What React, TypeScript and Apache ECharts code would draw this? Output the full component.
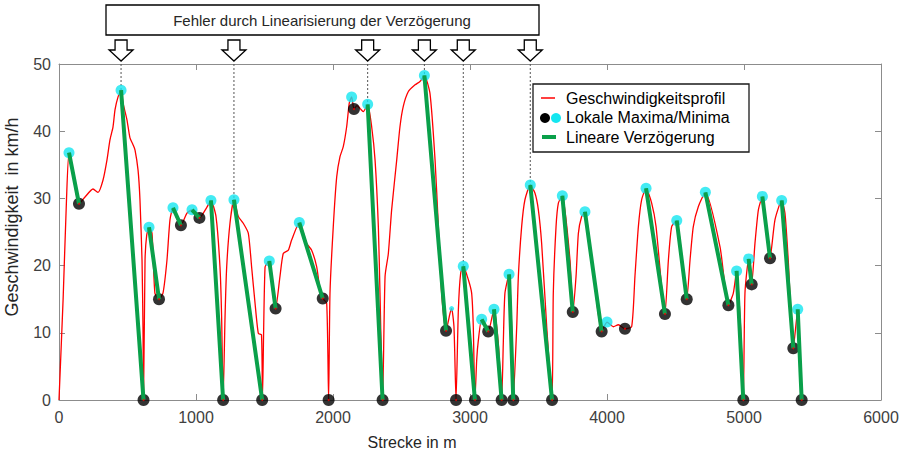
import React, { useEffect, useRef } from "react";
import * as echarts from "echarts";

// Red speed profile: distance (m) and speed (km/h)
const profileX = [0, 30, 55, 73, 110, 146, 190, 248, 285, 321, 350, 372, 394, 409, 431, 453, 467, 496, 518, 540, 555, 577, 591, 606, 613, 617, 628, 640, 657, 679, 700, 730, 759, 788, 810, 832, 860, 890, 934, 971, 1000, 1025, 1080, 1109, 1146, 1175, 1187, 1198, 1212, 1224, 1248, 1277, 1309, 1345, 1382, 1406, 1431, 1455, 1478, 1485, 1504, 1535, 1560, 1581, 1613, 1637, 1674, 1698, 1754, 1808, 1844, 1881, 1905, 1925, 1954, 1968, 1978, 2002, 2027, 2051, 2075, 2100, 2119, 2136, 2153, 2175, 2197, 2221, 2253, 2282, 2307, 2331, 2343, 2362, 2380, 2404, 2428, 2465, 2489, 2513, 2550, 2599, 2635, 2667, 2708, 2745, 2769, 2793, 2825, 2854, 2866, 2883, 2898, 2915, 2932, 2951, 2988, 3012, 3024, 3036, 3049, 3061, 3085, 3133, 3175, 3207, 3231, 3243, 3255, 3285, 3304, 3316, 3341, 3353, 3377, 3401, 3440, 3474, 3499, 3523, 3560, 3599, 3608, 3628, 3645, 3674, 3730, 3750, 3774, 3791, 3815, 3839, 3900, 3961, 4000, 4046, 4083, 4131, 4180, 4204, 4229, 4253, 4285, 4326, 4358, 4423, 4448, 4472, 4509, 4582, 4606, 4630, 4667, 4718, 4825, 4886, 4922, 4946, 4975, 4995, 5007, 5034, 5056, 5080, 5105, 5134, 5190, 5226, 5275, 5299, 5323, 5360, 5392, 5421];
const profileV = [0, 15, 30, 36.8, 32.5, 29.2, 30.2, 31.4, 30.9, 32.7, 35.7, 38.7, 40.6, 43.2, 45.1, 46.1, 44.2, 41.7, 39.0, 38.0, 37.2, 34.2, 29.8, 20.8, 10.9, 0, 20.8, 24.5, 25.7, 24.8, 15.9, 15.0, 15.9, 20.8, 26.8, 28.6, 27.0, 26.0, 27.8, 28.3, 27.5, 27.1, 28.7, 29.7, 27.3, 19.8, 12.4, 0, 12.4, 19.8, 26.3, 29.8, 27.3, 26.3, 24.8, 19.8, 14.4, 9.9, 9.7, 0, 19.8, 20.7, 16.0, 13.6, 18.4, 21.8, 22.3, 23.8, 26.4, 23.3, 22.3, 19.8, 16.4, 15.1, 14.4, 0, 15.9, 25.8, 33.2, 36.2, 37.7, 40.7, 44.2, 45.1, 43.3, 43.8, 43.4, 42.9, 44.0, 40.7, 35.7, 25.8, 15.9, 0, 18.4, 21.8, 28.3, 35.7, 40.7, 43.7, 45.9, 46.9, 47.4, 48.3, 45.6, 35.7, 25.8, 15.9, 10.3, 12.9, 13.6, 10.9, 0, 13.4, 18.9, 19.9, 17.9, 15.9, 10.9, 0, 6.0, 8.9, 12.0, 10.2, 13.5, 8.4, 0, 8.4, 15.9, 18.7, 10.9, 0, 10.9, 18.4, 25.8, 29.8, 32.0, 30.8, 28.3, 23.3, 10.9, 0, 15.9, 25.8, 29.3, 30.4, 20.8, 13.1, 18.4, 24.8, 27.3, 28.0, 19.0, 10.2, 11.6, 10.9, 11.2, 10.6, 10.9, 18.4, 25.8, 29.8, 31.5, 29.3, 25.8, 12.8, 20.8, 25.8, 26.7, 15.0, 20.8, 25.8, 28.8, 30.9, 22.8, 14.1, 15.9, 19.2, 10.9, 0, 15.9, 21.0, 17.2, 23.3, 28.3, 30.3, 21.1, 26.8, 29.7, 27.8, 20.8, 7.7, 13.5, 0];

// Local maxima (cyan)
const maximaX = [73, 453, 657, 832, 971, 1109, 1277, 1535, 1754, 2136, 2253, 2667, 2866, 2951, 3085, 3175, 3285, 3440, 3674, 3839, 4000, 4285, 4509, 4718, 4946, 5034, 5134, 5275, 5392];
const maximaV = [36.8, 46.1, 25.7, 28.6, 28.3, 29.7, 29.8, 20.7, 26.4, 45.1, 44.0, 48.3, 13.6, 19.9, 12.0, 13.5, 18.7, 32.0, 30.4, 28.0, 11.6, 31.5, 26.7, 30.9, 19.2, 21.0, 30.3, 29.7, 13.5];
const maximaSize = [11, 11, 11, 11, 11, 11, 11, 11, 11, 11, 11, 11, 5, 11, 11, 11, 11, 11, 11, 11, 11, 11, 11, 11, 11, 11, 11, 11, 11];

// Local minima (black)
const minimaX = [146, 617, 730, 890, 1025, 1198, 1483, 1581, 1925, 1968, 2153, 2362, 2825, 2898, 3036, 3133, 3231, 3316, 3599, 3750, 3961, 4131, 4423, 4582, 4886, 4995, 5056, 5190, 5360, 5421];
const minimaV = [29.2, 0, 15.0, 26.0, 27.1, 0, 0, 13.6, 15.1, 0, 43.3, 0, 10.3, 0, 0, 10.2, 0, 0, 0, 13.1, 10.2, 10.6, 12.8, 15.0, 14.1, 0, 17.2, 21.1, 7.7, 0];

// Linear deceleration: [maximum index, minimum index]
const decelPairs = [[0, 0], [1, 1], [2, 2], [3, 3], [4, 4], [5, 5], [6, 6], [7, 7], [8, 8], [10, 11], [11, 12], [13, 14], [14, 15], [15, 16], [16, 17], [17, 18], [18, 19], [19, 20], [21, 22], [22, 23], [23, 24], [24, 25], [25, 26], [26, 27], [27, 28], [28, 29]];

// Maxima marked with an error arrow
const arrowMaxima = [1, 6, 10, 11, 13, 17];

const xTicks = { min: 0, max: 6000, interval: 1000 };
const yTicks = { min: 0, max: 50, interval: 10 };

const FONT = "Arial, 'Liberation Sans', sans-serif";

export default function App() {
  const ref = useRef<HTMLDivElement>(null);
  useEffect(() => {
    if (!ref.current) return;
    const chart = echarts.init(ref.current, null, { renderer: "svg" });

    const profile = profileX.map((x, i) => [x, profileV[i]]);
    const green: any[] = [];
    decelPairs.forEach(([a, b]) => {
      green.push([maximaX[a], maximaV[a]]);
      green.push([minimaX[b], minimaV[b]]);
      green.push("-");
    });
    const dashed: any[] = [];
    arrowMaxima.forEach((i) => {
      dashed.push([maximaX[i], yTicks.max]);
      dashed.push([maximaX[i], maximaV[i]]);
      dashed.push("-");
    });

    const axisLineStyle = { color: "#8c8c8c", width: 1 };
    const fmt = (v: number) => String(v);
    const option: any = {
      animation: false,
      backgroundColor: "#ffffff",
      grid: { left: 59, right: 28, top: 64, bottom: 54, containLabel: false, outerBoundsMode: "none" },
      xAxis: [
        {
          type: "value", ...xTicks,
          name: "Strecke in m", nameLocation: "middle", nameGap: 34,
          nameTextStyle: { fontFamily: FONT, fontSize: 16, color: "#262626", padding: [0, 116, 0, 0] },
          axisLine: { show: true, onZero: false, lineStyle: axisLineStyle },
          axisTick: { show: true, inside: true, length: 6, lineStyle: axisLineStyle },
          axisLabel: { fontFamily: FONT, fontSize: 16, color: "#404040", margin: 9, formatter: fmt },
          splitLine: { show: false },
        },
        {
          type: "value", position: "top", ...xTicks,
          axisLine: { show: true, onZero: false, lineStyle: axisLineStyle },
          axisTick: { show: true, inside: true, length: 6, lineStyle: axisLineStyle },
          axisLabel: { show: false },
          splitLine: { show: false },
        },
      ],
      yAxis: [
        {
          type: "value", ...yTicks,
          name: "Geschwindigkeit  in km/h", nameLocation: "middle", nameGap: 38,
          nameTextStyle: { fontFamily: FONT, fontSize: 18, color: "#262626", padding: [0, 0, 0, 30] },
          axisLine: { show: true, onZero: false, lineStyle: axisLineStyle },
          axisTick: { show: true, inside: true, length: 6, lineStyle: axisLineStyle },
          axisLabel: { fontFamily: FONT, fontSize: 16, color: "#404040", margin: 8, formatter: fmt },
          splitLine: { show: false },
        },
        {
          type: "value", position: "right", ...yTicks,
          axisLine: { show: true, onZero: false, lineStyle: axisLineStyle },
          axisTick: { show: true, inside: true, length: 6, lineStyle: axisLineStyle },
          axisLabel: { show: false },
          splitLine: { show: false },
        },
      ],
      series: [
        {
          name: "Fehlerlinien", type: "line", data: dashed, showSymbol: false, symbol: "none",
          lineStyle: { color: "#555555", width: 1, type: [2, 2] }, z: 1,
        },
        {
          name: "Geschwindigkeitsprofil", type: "line", data: profile, showSymbol: false, symbol: "none",
          smooth: 0.2,
          lineStyle: { color: "#ff0000", width: 1.3 }, z: 2,
        },
        {
          name: "Lineare Verzögerung", type: "line", data: green, showSymbol: false, symbol: "none",
          connectNulls: false,
          lineStyle: { color: "#0aa04a", width: 4 }, z: 4,
        },
        {
          name: "Minima", type: "scatter", data: minimaX.map((x, i) => [x, minimaV[i]]),
          symbol: "circle", symbolSize: 12, itemStyle: { color: "#000000" }, z: 3,
        },
        {
          name: "Minima-Mitte", type: "scatter", data: minimaX.map((x, i) => [x, minimaV[i]]),
          symbol: "circle", symbolSize: 2, itemStyle: { color: "#ff0000" }, z: 5,
        },
        {
          name: "Maxima", type: "scatter",
          data: maximaX.map((x, i) => ({ value: [x, maximaV[i]], symbolSize: maximaSize[i] })),
          symbol: "circle", itemStyle: { color: "#14e6f0" }, z: 3,
        },
      ],
    };
    chart.setOption(option);

    const graphics: any[] = [];
    // top annotation box
    graphics.push({
      type: "rect", shape: { x: 106, y: 5, width: 433, height: 30 },
      style: { fill: "#ffffff", stroke: "#000000", lineWidth: 1.3 }, z: 10,
    });
    graphics.push({
      type: "text", x: 322, y: 20,
      style: { text: "Fehler durch Linearisierung der Verzögerung", fontFamily: FONT, fontSize: 15, fill: "#262626", align: "center", verticalAlign: "middle" },
      z: 11,
    });
    // arrows above the plot at the maxima positions
    arrowMaxima.forEach((i) => {
      const p = chart.convertToPixel({ xAxisIndex: 0, yAxisIndex: 0 }, [maximaX[i], maximaV[i]]);
      const cx = p[0];
      graphics.push({
        type: "polygon",
        shape: {
          points: [
            [cx - 6, 40], [cx + 6, 40], [cx + 6, 50], [cx + 12, 50],
            [cx, 61], [cx - 12, 50], [cx - 6, 50],
          ],
        },
        style: { fill: "#ffffff", stroke: "#000000", lineWidth: 1.3 },
        z: 10,
      });
    });
    // legend
    graphics.push({
      type: "rect", shape: { x: 533, y: 84, width: 216, height: 68 },
      style: { fill: "#ffffff", stroke: "#1a1a1a", lineWidth: 1.3 }, z: 10,
    });
    graphics.push({ type: "line", shape: { x1: 541, y1: 98, x2: 555, y2: 98 }, style: { stroke: "#ff0000", lineWidth: 1.5 }, z: 11 });
    graphics.push({ type: "circle", shape: { cx: 545, cy: 118, r: 5 }, style: { fill: "#000000" }, z: 11 });
    graphics.push({ type: "circle", shape: { cx: 556, cy: 118, r: 5 }, style: { fill: "#14e6f0" }, z: 11 });
    graphics.push({ type: "line", shape: { x1: 542, y1: 137, x2: 556, y2: 137 }, style: { stroke: "#0aa04a", lineWidth: 4 }, z: 11 });
    const legendTexts = ["Geschwindigkeitsprofil", "Lokale Maxima/Minima", "Lineare Verzögerung"];
    legendTexts.forEach((t, k) => {
      graphics.push({
        type: "text", x: 566, y: 98 + k * 19.5,
        style: { text: t, fontFamily: FONT, fontSize: 16, fill: "#000000", verticalAlign: "middle" },
        z: 11,
      });
    });
    chart.setOption({ graphic: graphics });

    return () => chart.dispose();
  }, []);
  return <div ref={ref} style={{ width: 909, height: 454, position: "absolute", left: 0, top: 0 }} />;
}
